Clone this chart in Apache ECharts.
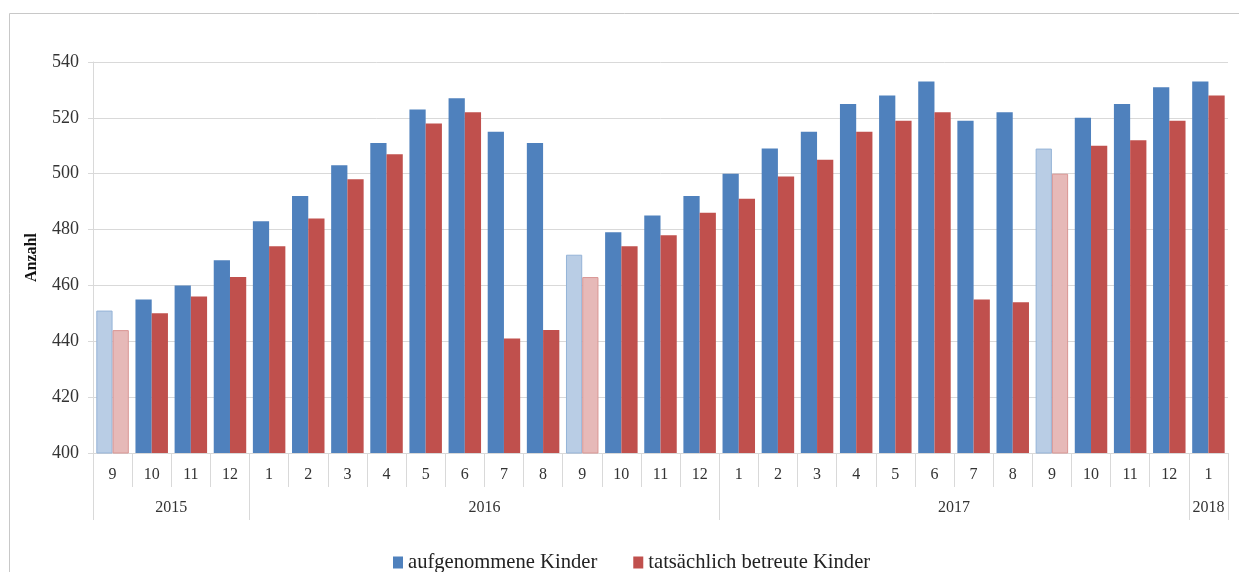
<!DOCTYPE html>
<html>
<head>
<meta charset="utf-8">
<script src="https://cdn.jsdelivr.net/npm/echarts@6/dist/echarts.min.js"></script>
<style>
  html, body { margin: 0; padding: 0; background: #fff; }
  #chart { width: 1239px; height: 572px; }
</style>
</head>
<body>
<div id="chart"></div>
<script>
// ---- data ----
const months = ['9','10','11','12','1','2','3','4','5','6','7','8','9','10','11','12','1','2','3','4','5','6','7','8','9','10','11','12','1'];
const years = ['2015', '2016', '2017', '2018'];
const monthsPerYear = [4, 12, 12, 1];
const aufgenommen = [451,455,460,469,483,492,503,511,523,527,515,511,471,479,485,492,500,509,515,525,528,533,519,522,509,520,525,531,533];
const betreut     = [444,450,456,463,474,484,498,507,518,522,441,444,463,474,478,486,491,499,505,515,519,522,455,454,500,510,512,519,528];
const seriesNames = ['aufgenommene Kinder', 'tatsächlich betreute Kinder'];
const yTicks = { min: 400, max: 540, step: 20 };

// ---- derived group boundaries for year axis ----
const boundaries = [0];
monthsPerYear.forEach(n => boundaries.push(boundaries[boundaries.length - 1] + n));
const centers = monthsPerYear.map((n, i) => boundaries[i] + n / 2);

const FONT = '"Liberation Serif", "DejaVu Serif", serif';
const BLUE = '#4F81BD', RED = '#C0504D';
const BLUE_L = '#B9CDE5', RED_L = '#E6B9B8';
const GRID = '#D9D9D9';

function items(values, base, light, lightBorder) {
  return values.map((v, i) => months[i] === '9'
    ? { value: v, itemStyle: { color: light, borderColor: lightBorder, borderWidth: 1 } }
    : { value: v, itemStyle: { color: base } });
}

const chart = echarts.init(document.getElementById('chart'), null, { renderer: 'canvas' });
chart.setOption({
  animation: false,
  backgroundColor: '#fff',
  textStyle: { fontFamily: FONT },
  graphic: [{
    type: 'rect', left: 7, top: 11, silent: true,
    shape: { width: 1300, height: 600 },
    style: { fill: 'none', stroke: '#C8C8C8', lineWidth: 1 }
  }],
  legend: {
    data: seriesNames,
    left: 393, top: 552,
    padding: 0,
    itemWidth: 10, itemHeight: 12, itemGap: 36,
    icon: 'rect',
    textStyle: { fontFamily: FONT, fontSize: 20.6, color: '#222', padding: [0, 0, 0, 0] }
  },
  grid: { left: 93, right: 11, top: 62, bottom: 119, containLabel: false },
  xAxis: [{
    type: 'category',
    data: months,
    position: 'bottom',
    boundaryGap: true,
    axisLine: { show: true, lineStyle: { color: GRID, width: 1 } },
    axisTick: { show: true, interval: 0, length: 34, lineStyle: { color: GRID, width: 1 } },
    axisLabel: { interval: 0, margin: 14, fontFamily: FONT, fontSize: 16, color: '#333' },
    splitLine: { show: false }
  }, {
    type: 'value',
    position: 'bottom',
    min: 0, max: months.length,
    axisLine: { show: false },
    axisTick: { show: true, customValues: boundaries, length: 67, lineStyle: { color: GRID, width: 1 } },
    axisLabel: {
      customValues: centers, margin: 47, fontFamily: FONT, fontSize: 16, color: '#333',
      formatter: v => { const k = centers.indexOf(v); return k >= 0 ? years[k] : ''; }
    },
    splitLine: { show: false }
  }],
  yAxis: {
    type: 'value',
    min: yTicks.min, max: yTicks.max, interval: yTicks.step,
    name: 'Anzahl',
    nameLocation: 'middle',
    nameGap: 53,
    nameTextStyle: { fontFamily: FONT, fontSize: 16, fontWeight: 'bold', color: '#111' },
    axisLine: { show: true, lineStyle: { color: GRID, width: 1 } },
    axisTick: { show: true, length: 5, lineStyle: { color: GRID } },
    axisLabel: { margin: 14, fontFamily: FONT, fontSize: 18, color: '#333' },
    splitLine: { show: true, lineStyle: { color: GRID, width: 1 } }
  },
  series: [{
    name: seriesNames[0],
    type: 'bar',
    xAxisIndex: 0,
    barGap: '0%',
    barCategoryGap: '17%',
    itemStyle: { color: BLUE },
    data: items(aufgenommen, BLUE, BLUE_L, '#95B3D7')
  }, {
    name: seriesNames[1],
    type: 'bar',
    xAxisIndex: 0,
    barGap: '0%',
    barCategoryGap: '17%',
    itemStyle: { color: RED },
    data: items(betreut, RED, RED_L, '#D99694')
  }]
});
</script>
</body>
</html>
